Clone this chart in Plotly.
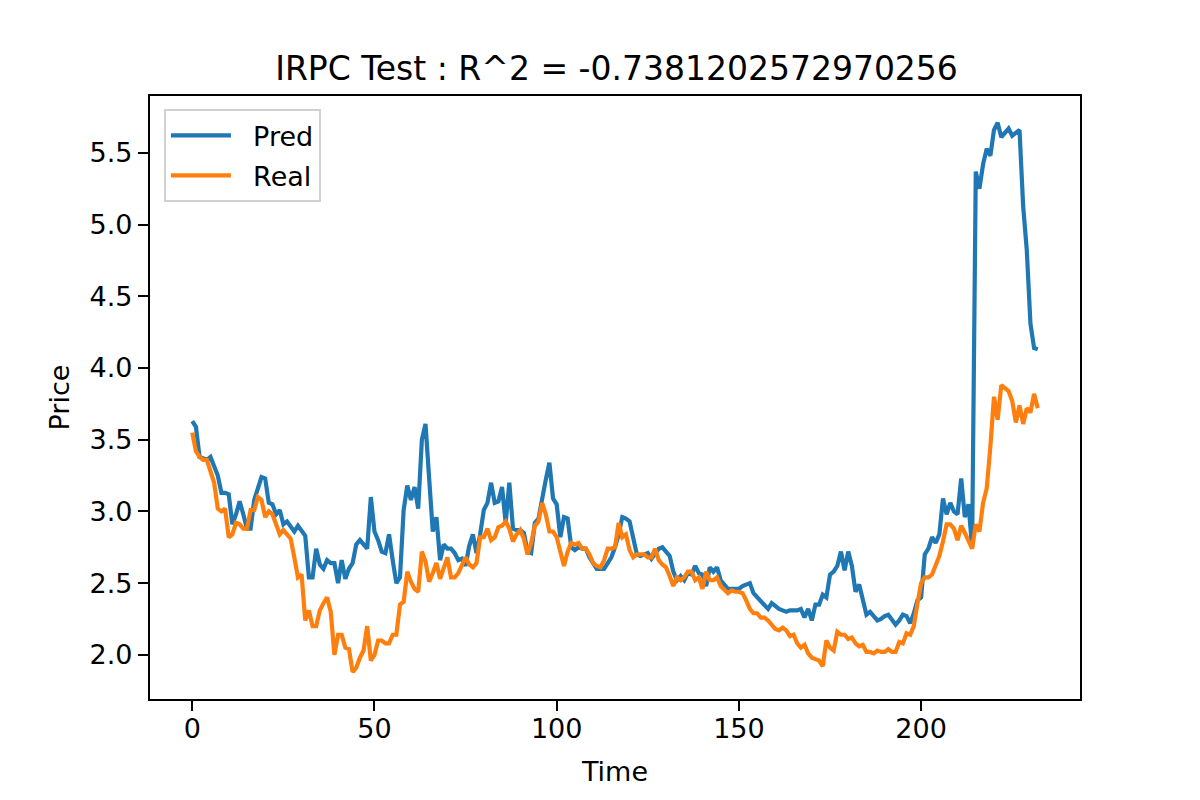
import plotly.graph_objects as go

# values, one per time step (0..232)
pred = [
    3.63, 3.59, 3.38, 3.37, 3.36, 3.38, 3.32, 3.25, 3.13, 3.13,
    3.12, 2.91, 2.98, 3.07, 2.98, 2.88, 2.88, 3.08, 3.16, 3.24,
    3.23, 3.06, 3.05, 2.98, 3.01, 2.91, 2.93, 2.90, 2.86, 2.90,
    2.86, 2.83, 2.54, 2.54, 2.74, 2.63, 2.60, 2.66, 2.64, 2.64,
    2.50, 2.66, 2.53, 2.60, 2.64, 2.77, 2.80, 2.77, 2.74, 3.10,
    2.86, 2.80, 2.72, 2.71, 2.84, 2.66, 2.50, 2.54, 3.01, 3.18,
    3.08, 3.17, 3.02, 3.50, 3.61, 3.23, 2.86, 2.96, 2.66, 2.77,
    2.74, 2.74, 2.71, 2.66, 2.67, 2.62, 2.76, 2.84, 2.71, 2.84,
    3.01, 3.06, 3.20, 3.06, 3.07, 3.17, 2.92, 3.20, 2.88, 2.87,
    2.87, 2.85, 2.72, 2.71, 2.92, 2.95, 3.10, 3.22, 3.34, 3.09,
    3.05, 2.82, 2.96, 2.95, 2.75, 2.73, 2.75, 2.74, 2.74, 2.68,
    2.64, 2.60, 2.60, 2.60, 2.64, 2.68, 2.75, 2.84, 2.96, 2.95,
    2.93, 2.82, 2.70, 2.69, 2.70, 2.71, 2.67, 2.70, 2.74, 2.75,
    2.72, 2.69, 2.58, 2.52, 2.55, 2.52, 2.57, 2.56, 2.62, 2.57,
    2.56, 2.48, 2.61, 2.58, 2.61, 2.52, 2.49, 2.46, 2.46, 2.46,
    2.46, 2.48, 2.49, 2.50, 2.43, 2.40, 2.37, 2.35, 2.32, 2.36,
    2.34, 2.32, 2.31, 2.30, 2.31, 2.31, 2.31, 2.32, 2.26, 2.32,
    2.24, 2.35, 2.35, 2.42, 2.40, 2.56, 2.58, 2.62, 2.72, 2.59,
    2.72, 2.62, 2.44, 2.49, 2.38, 2.28, 2.30, 2.27, 2.24, 2.25,
    2.27, 2.28, 2.24, 2.21, 2.24, 2.28, 2.27, 2.22, 2.29, 2.38,
    2.40, 2.70, 2.74, 2.82, 2.78, 2.84, 3.09, 2.98, 3.06, 3.00,
    2.98, 3.23, 2.96, 3.05, 2.75, 5.37, 5.25, 5.42, 5.53, 5.48,
    5.66, 5.71, 5.61, 5.64, 5.67, 5.62, 5.64, 5.66, 5.13, 4.82,
    4.31, 4.14, 4.13,
]

real = [
    3.55, 3.42, 3.38, 3.36, 3.36, 3.29, 3.20, 3.02, 3.00, 3.02,
    2.82, 2.84, 2.92, 2.91, 2.88, 2.88, 3.01, 3.01, 3.10, 3.08,
    2.96, 3.00, 2.98, 2.91, 2.84, 2.87, 2.84, 2.81, 2.68, 2.54,
    2.56, 2.24, 2.31, 2.20, 2.20, 2.31, 2.36, 2.40, 2.30, 2.00,
    2.14, 2.14, 2.05, 2.04, 1.88, 1.91, 1.98, 2.03, 2.20, 1.96,
    2.00, 2.10, 2.10, 2.08, 2.08, 2.14, 2.14, 2.35, 2.37, 2.58,
    2.51, 2.46, 2.44, 2.72, 2.65, 2.51, 2.57, 2.64, 2.53, 2.60,
    2.68, 2.54, 2.54, 2.57, 2.63, 2.68, 2.63, 2.61, 2.64, 2.82,
    2.82, 2.88, 2.80, 2.82, 2.89, 2.90, 2.93, 2.88, 2.79, 2.84,
    2.87, 2.81, 2.70, 2.78, 2.90, 2.93, 3.06, 2.98, 2.86, 2.86,
    2.82, 2.72, 2.62, 2.72, 2.78, 2.77, 2.78, 2.74, 2.74, 2.70,
    2.64, 2.62, 2.61, 2.66, 2.74, 2.74, 2.75, 2.92, 2.82, 2.84,
    2.73, 2.68, 2.70, 2.70, 2.70, 2.68, 2.68, 2.74, 2.66, 2.63,
    2.61, 2.55, 2.48, 2.54, 2.52, 2.54, 2.58, 2.58, 2.52, 2.54,
    2.46, 2.58, 2.52, 2.52, 2.54, 2.48, 2.45, 2.43, 2.45, 2.44,
    2.44, 2.43, 2.38, 2.32, 2.29, 2.29, 2.26, 2.26, 2.24, 2.21,
    2.18, 2.17, 2.19, 2.17, 2.13, 2.14, 2.08, 2.05, 2.07, 2.01,
    1.98, 1.97, 1.96, 1.92, 2.10, 2.05, 2.03, 2.16, 2.14, 2.14,
    2.11, 2.12, 2.08, 2.06, 2.07, 2.02, 2.02, 2.01, 2.03, 2.02,
    2.02, 2.04, 2.02, 2.02, 2.09, 2.08, 2.15, 2.14, 2.20, 2.36,
    2.50, 2.54, 2.54, 2.56, 2.63, 2.69, 2.79, 2.91, 2.91, 2.88,
    2.80, 2.90, 2.85, 2.80, 2.74, 2.91, 2.86, 3.06, 3.16, 3.45,
    3.80, 3.64, 3.88, 3.86, 3.84, 3.77, 3.62, 3.74, 3.61, 3.72,
    3.69, 3.82, 3.72,
]

time = list(range(len(pred)))
x_ticks = [0, 50, 100, 150, 200]
y_ticks = [2.0, 2.5, 3.0, 3.5, 4.0, 4.5, 5.0, 5.5]

font = "DejaVu Sans, Liberation Sans, sans-serif"
gap = "\u00a0\u00a0"  # space between legend line and label

fig = go.Figure()
fig.add_trace(go.Scatter(x=time, y=pred, mode="lines", name=gap + "Pred", legendgroup="p",
                         line=dict(color="#1f77b4", width=4.2)))
fig.add_trace(go.Scatter(x=time, y=real, mode="lines", name=gap + "Real", legendgroup="r",
                         line=dict(color="#ff7f0e", width=4.2)))

axis_style = dict(
    showline=True, linecolor="black", linewidth=2.2, mirror=True,
    ticks="outside", ticklen=10, tickwidth=2.2, tickcolor="black",
    showgrid=False, zeroline=False,
    tickfont=dict(family=font, size=27, color="black"),
)

# the page has an 8px body margin, so the figure is 8px smaller
fig.update_layout(
    width=1192, height=792,
    paper_bgcolor="white", plot_bgcolor="white",
    margin=dict(l=142, r=120, t=88, b=101),
    title=dict(text="IRPC Test : R^2 = -0.7381202572970256",
               x=0.5105, xanchor="center", y=0.9235, yanchor="middle",
               font=dict(family=font, size=33, color="black")),
    xaxis=dict(range=[-11.6, 243.6], tickvals=x_ticks, ticklabelstandoff=-6,
               title=dict(text="Time", font=dict(family=font, size=27, color="black"),
                          standoff=20),
               **axis_style),
    yaxis=dict(range=[1.692, 5.897], tickvals=y_ticks, tickformat=".1f",
               title=dict(text="Price", font=dict(family=font, size=27, color="black"),
                          standoff=12),
               **axis_style),
    legend=dict(x=0.015, y=0.978, xanchor="left", yanchor="top",
                bgcolor="rgba(255,255,255,0.8)", bordercolor="#d0d0d0", borderwidth=2,
                font=dict(family=font, size=27, color="black"),
                itemwidth=60, tracegroupgap=2),
    showlegend=True,
)

fig.write_html("out.html")
